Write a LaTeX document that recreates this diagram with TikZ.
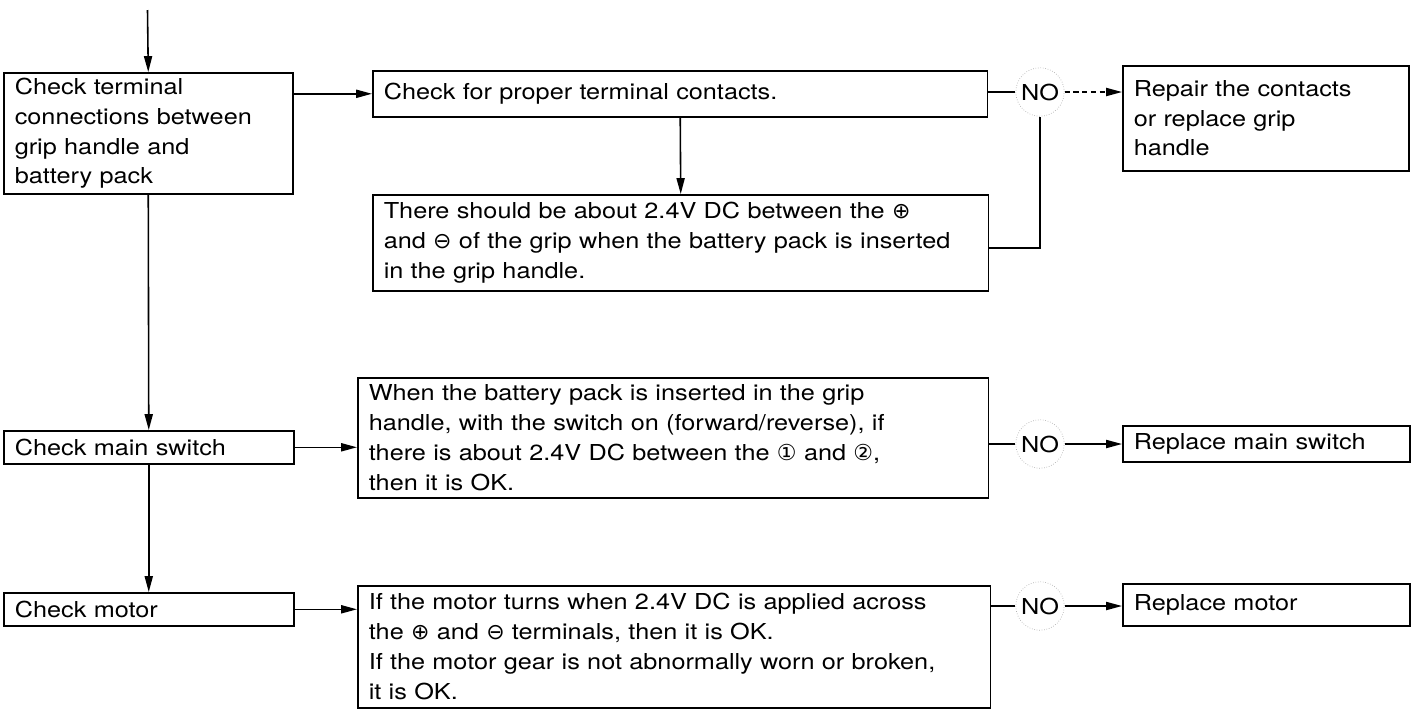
\documentclass[tikz,border=0pt]{standalone}
\usepackage{fontspec}
\setmainfont{TeX Gyre Heros}[FakeStretch=1.15]
\newfontfamily\symfont{DejaVu Sans}
\usetikzlibrary{arrows.meta}

\newcommand{\cplus}{{\symfont ⊕}}
\newcommand{\cminus}{{\symfont ⊖}}
\newcommand{\cone}{{\symfont ①}}
\newcommand{\ctwo}{{\symfont ②}}

\tikzset{
  box/.style={draw, line width=0.9pt, anchor=north west, align=left, inner xsep=0.22cm, inner ysep=0pt},
  link/.style={line width=0.9pt},
  arr/.style={line width=0.9pt, -{Triangle[length=9pt,width=4.6pt]}},
  nolabel/.style={circle, draw=gray!60, densely dotted, thin, inner sep=1.5pt},
}

\begin{document}
\begin{tikzpicture}[x=0.02cm, y=-0.02cm, font=\fontsize{12.5}{17}\selectfont]
\useasboundingbox (0,0) rectangle (1421,718);

% left column
\coordinate (entry) at (147.5,10);
\node[box, minimum width=5.78cm, minimum height=2.42cm, text width=5.34cm] (terminal) at (3,72)
  {Check terminal\\connections between\\grip handle and\\battery pack};
\node[box, minimum width=5.8cm, minimum height=0.66cm, text width=5.36cm] (mainsw) at (3,430) {Check main switch};
\node[box, minimum width=5.8cm, minimum height=0.66cm, text width=5.36cm] (motor) at (3,592) {Check motor};

% middle column
\node[box, minimum width=12.3cm, minimum height=0.92cm, text width=11.86cm] (contacts) at (372,70)
  {Check for proper terminal contacts.};
\node[box, minimum width=12.32cm, minimum height=1.92cm, text width=11.88cm] (voltage) at (372,194)
  {There should be about 2.4V DC between the \cplus\\and \cminus{} of the grip when the battery pack is inserted\\in the grip handle.};
\node[box, minimum width=12.62cm, minimum height=2.4cm, text width=12.18cm] (switchtest) at (357,377)
  {When the battery pack is inserted in the grip\\handle, with the switch on (forward/reverse), if\\there is about 2.4V DC between the \cone{} and \ctwo,\\then it is OK.};
\node[box, minimum width=12.66cm, minimum height=2.44cm, text width=12.22cm] (motortest) at (357,585)
  {If the motor turns when 2.4V DC is applied across\\the \cplus{} and \cminus{} terminals, then it is OK.\\If the motor gear is not abnormally worn or broken,\\it is OK.};

% NO labels
\node[nolabel] (no1) at (1040,92) {NO};
\node[nolabel] (no2) at (1040,444) {NO};
\node[nolabel] (no3) at (1040,606) {NO};

% right column
\node[box, minimum width=5.72cm, minimum height=2.1cm, text width=5.28cm] (repair) at (1122,65)
  {Repair the contacts\\or replace grip\\handle};
\node[box, minimum width=5.74cm, minimum height=0.72cm, text width=5.3cm] (newswitch) at (1122,425) {Replace main switch};
\node[box, minimum width=5.74cm, minimum height=0.84cm, text width=5.3cm] (newmotor) at (1122,583) {Replace motor};

% connectors
\draw[arr] (entry) -- (terminal.north);
\draw[arr] (terminal.south) -- (mainsw.north);
\draw[arr] (mainsw.south) -- (motor.north);
\draw[arr] (contacts.west -| terminal.east) -- (contacts.west);
\draw[arr] (contacts.south) -- (voltage.north);
\draw[link] (contacts.east |- no1) -- (no1.west);
\draw[arr, densely dashed] (no1.east) -- (no1 -| repair.west);
\draw[link] ([yshift=-0.1cm]voltage.east) -| (no1.south);
\draw[arr] (mainsw.east) -- (mainsw.east -| switchtest.west);
\draw[link] (no2 -| switchtest.east) -- (no2.west);
\draw[arr] (no2.east) -- (no2 -| newswitch.west);
\draw[arr] (motor.east) -- (motor.east -| motortest.west);
\draw[link] (no3 -| motortest.east) -- (no3.west);
\draw[arr] (no3.east) -- (no3 -| newmotor.west);
\end{tikzpicture}
\end{document}
